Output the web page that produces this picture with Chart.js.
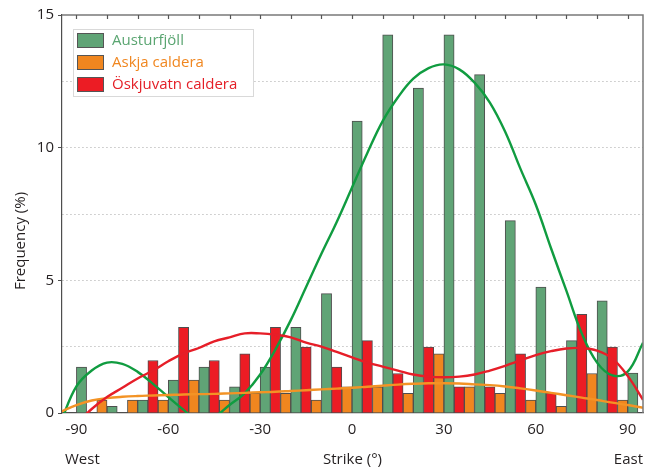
<!DOCTYPE html>
<html>
<head>
<meta charset="utf-8">
<script src="https://cdn.jsdelivr.net/npm/chart.js@4/dist/chart.umd.min.js"></script>
<style>
html,body{margin:0;padding:0;background:#fff;}
#wrap{width:649px;height:469px;}
</style>
</head>
<body>
<div id="wrap"><canvas id="c" width="649" height="469"></canvas></div>
<script>
// ---- data ----
const binCenters = [-85,-75,-65,-55,-45,-35,-25,-15,-5,5,15,25,35,45,55,65,75,85,95];
const austurfjollBars = [1.73,0.25,0.49,1.24,1.73,0.99,1.73,3.23,4.5,11.0,14.25,12.25,14.25,12.75,7.25,4.75,2.73,4.23,1.5];
const oskjuvatnBars   = [0,0,1.98,3.23,1.98,2.23,3.23,2.48,1.73,2.73,1.49,2.48,0.99,0.99,2.23,0.74,3.72,2.48,0];
const askjaBars       = [0.49,0.49,0.49,1.24,0.49,0.74,0.74,0.49,0.99,0.99,0.74,2.23,0.99,0.74,0.49,0.25,1.49,0.49,0];

const curveStrike = [-95,-90,-85,-80,-75,-70,-65,-60,-55,-50,-45,-40,-35,-30,-25,-20,-15,-10,-5,0,5,10,15,20,25,30,35,40,45,50,55,60,65,70,75,80,85,90,95];
const austurfjollFit = [-0.3,1.0,1.6,1.9,1.85,1.55,1.1,0.6,0.12,-0.32,-0.15,0.3,0.75,1.45,2.4,3.5,4.75,6.0,7.2,8.5,9.8,11.0,11.9,12.6,13.0,13.14,12.95,12.45,11.7,10.6,9.2,7.85,6.2,4.6,3.0,1.9,1.42,1.56,2.65];
const askjaFit        = [0.05,0.3,0.47,0.56,0.61,0.64,0.66,0.68,0.7,0.71,0.72,0.74,0.76,0.78,0.8,0.83,0.86,0.89,0.92,0.95,0.99,1.03,1.07,1.1,1.12,1.12,1.11,1.08,1.05,1.0,0.93,0.85,0.76,0.67,0.58,0.49,0.39,0.3,0.2];
const oskjuvatnFit    = [-0.9,-0.4,0.15,0.6,0.95,1.3,1.6,1.95,2.25,2.45,2.7,2.85,3.0,3.0,2.95,2.85,2.65,2.5,2.3,2.1,1.9,1.75,1.6,1.45,1.37,1.35,1.37,1.45,1.6,1.78,1.98,2.18,2.33,2.43,2.45,2.35,2.05,1.4,0.5];

const xTickLabels = [-90,-60,-30,0,30,60,90];
const yTickLabels = [0,5,10,15];
const seriesNames = ['Austurfjöll','Askja caldera','Öskjuvatn caldera'];

// ---- styling ----
const FONT = "'Open Sans', 'DejaVu Sans', sans-serif";
const TXT = '#231f20';
const colGreenBar = '#60a476', colOrangeBar = '#f0861f', colRedBar = '#ec1c24';
const colGreenLine = '#109c40', colOrangeLine = '#f39325', colRedLine = '#e61e28';
const legendText = ['#5aa571','#f0861f','#e41e26'];
const legendFill = [colGreenBar, colOrangeBar, colRedBar];

const pts = (xs, ys) => xs.map((x,i)=>({x:x, y:ys[i]}));

const lineDs = (label, xs, ys, color) => ({
  type:'line', label, data: pts(xs, ys), borderColor: color, borderWidth: 2.4,
  pointRadius: 0, tension: 0.4, fill: false, order: 0
});
const barDs = (label, ys, color) => ({
  type:'bar', label, data: pts(binCenters, ys), backgroundColor: color,
  borderColor: '#4e4e4e', borderWidth: 1, barPercentage: 1, categoryPercentage: 1, order: 1
});

const framePlugin = {
  id:'frame',
  afterDatasetsDraw(chart){
    const {ctx, chartArea:a, scales:{x}} = chart;
    ctx.save();
    ctx.strokeStyle = '#7a7a7a';
    ctx.lineWidth = 1.5;
    ctx.beginPath();
    ctx.moveTo(a.left, a.top); ctx.lineTo(a.right, a.top); ctx.lineTo(a.right, a.bottom);
    ctx.stroke();
    ctx.lineWidth = 1.2;
    ctx.strokeStyle = '#555';
    for (let v = -90; v <= 90; v += 10) {
      const px = Math.round(x.getPixelForValue(v)) + 0.5;
      ctx.beginPath(); ctx.moveTo(px, a.top); ctx.lineTo(px, a.top + 4); ctx.stroke();
    }
    ctx.restore();
  },
  afterDraw(chart){
    const {ctx, chartArea:a} = chart;
    ctx.save();
    // legend
    const lx = a.left + 11, ly = a.top + 14, lw = 180, lh = 67;
    ctx.fillStyle = '#fff';
    ctx.fillRect(lx, ly, lw, lh);
    ctx.strokeStyle = '#d9d9d9'; ctx.lineWidth = 1;
    ctx.strokeRect(lx + 0.5, ly + 0.5, lw, lh);
    ctx.font = "15px " + FONT;
    ctx.textBaseline = 'middle';
    for (let i = 0; i < 3; i++) {
      const cy = ly + 11 + i * 22;
      ctx.fillStyle = legendFill[i];
      ctx.fillRect(lx + 4, cy - 7, 26, 14);
      ctx.strokeStyle = '#555'; ctx.lineWidth = 1;
      ctx.strokeRect(lx + 4.5, cy - 6.5, 26, 14);
      ctx.fillStyle = legendText[i];
      ctx.textAlign = 'left';
      ctx.fillText(seriesNames[i], lx + 39, cy + 1);
    }
    // axis titles
    ctx.fillStyle = TXT;
    ctx.font = "15px " + FONT;
    ctx.textAlign = 'center';
    ctx.fillText('Strike (°)', (a.left + a.right) / 2, 460);
    ctx.textAlign = 'left';
    ctx.fillText('West', a.left + 3, 460);
    ctx.textAlign = 'right';
    ctx.fillText('East', a.right, 460);
    ctx.save();
    ctx.translate(21, 241);
    ctx.rotate(-Math.PI / 2);
    ctx.textAlign = 'center';
    ctx.fillText('Frequency (%)', 0, 0);
    ctx.restore();
    ctx.restore();
  }
};

Chart.defaults.font.family = FONT;
Chart.defaults.color = TXT;

new Chart(document.getElementById('c'), {
  data: {
    datasets: [
      lineDs('Öskjuvatn caldera fit', curveStrike, oskjuvatnFit, colRedLine),
      lineDs('Askja caldera fit', curveStrike, askjaFit, colOrangeLine),
      lineDs('Austurfjöll fit', curveStrike, austurfjollFit, colGreenLine),
      barDs(seriesNames[0], austurfjollBars, colGreenBar),
      barDs(seriesNames[2], oskjuvatnBars, colRedBar),
      barDs(seriesNames[1], askjaBars, colOrangeBar)
    ]
  },
  options: {
    responsive: false,
    animation: false,
    layout: { padding: { top: 15, right: 6, left: 0, bottom: 0 } },
    plugins: { legend: { display: false }, tooltip: { enabled: false } },
    scales: {
      x: {
        type: 'linear', min: -94.7, max: 95, offset: false,
        afterBuildTicks: (s) => { s.ticks = xTickLabels.map(v => ({ value: v })); },
        ticks: { autoSkip: false, maxRotation: 0, padding: 8, font: { size: 15 }, color: TXT },
        grid: { display: false, drawTicks: false, offset: false },
        border: { display: true, color: '#4e4e4e', width: 1.2 },
        afterFit: (s) => { s.height = 56; s.paddingLeft = 0; s.paddingRight = 0; }
      },
      y: {
        type: 'linear', min: 0, max: 15,
        ticks: {
          stepSize: 2.5, padding: 4, font: { size: 15 }, color: TXT,
          callback: (v) => yTickLabels.includes(v) ? String(v) : ''
        },
        grid: {
          color: (c) => (c.tick && (c.tick.value === 0 || c.tick.value === 15)) ? 'transparent' : '#c4c4c4',
          lineWidth: 1, drawTicks: true, tickLength: 4,
          tickColor: (c) => (c.tick && yTickLabels.includes(c.tick.value)) ? '#4e4e4e' : 'transparent'
        },
        border: { display: true, color: '#4e4e4e', width: 1.2, dash: [1.5, 2.5] },
        afterFit: (s) => { s.width = 62; s.paddingTop = 0; s.paddingBottom = 0; }
      }
    }
  },
  plugins: [framePlugin]
});
</script>
</body>
</html>
